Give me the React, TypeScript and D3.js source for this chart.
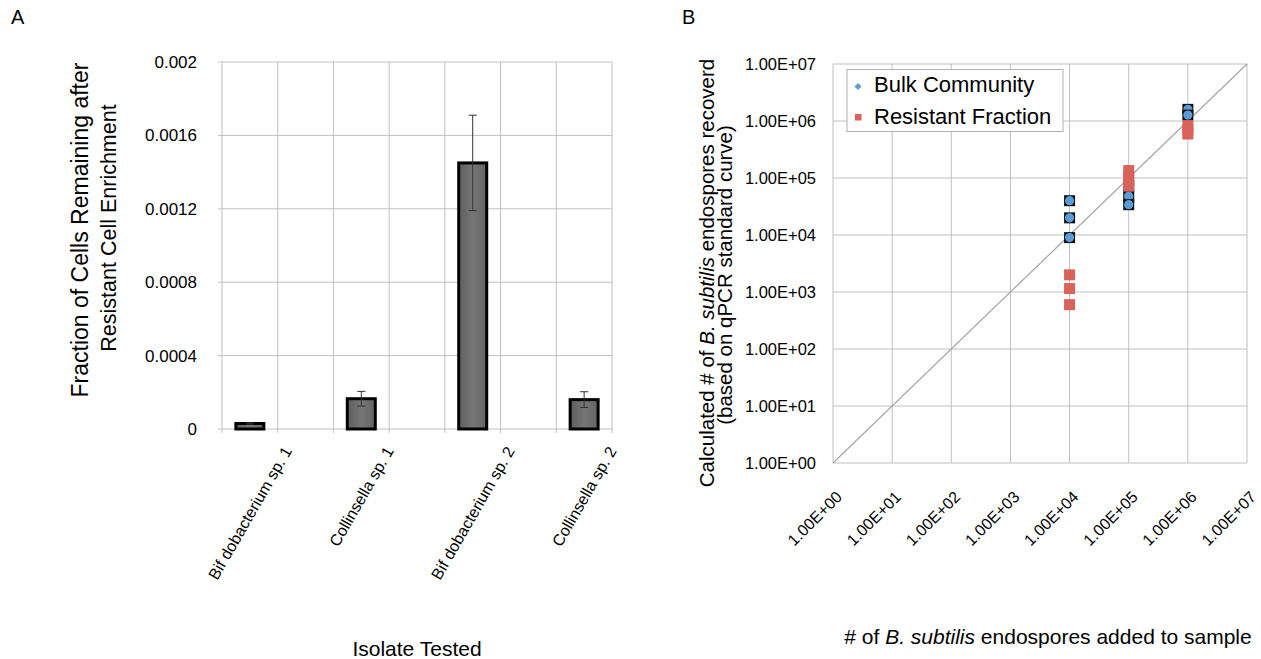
import React from "react";
import * as d3 from "d3";

// ---- panel A data ----
const isolates = ["Bif dobacterium sp. 1", "Collinsella sp. 1", "Bif dobacterium sp. 2", "Collinsella sp. 2"];
const fractionMean = [0.00003, 0.000165, 0.00145, 0.00016];
const fractionErr = [0.000003, 0.00004, 0.00026, 0.000043];
const yTicksA = [0, 0.0004, 0.0008, 0.0012, 0.0016, 0.002];
const yTickLabelsA = ["0", "0.0004", "0.0008", "0.0012", "0.0016", "0.002"];
const slotCount = 7; // excel axis had empty slots between isolates

// ---- panel B data ----
const bulkAdded = [1e4, 1e4, 1e4, 1e5, 1e5, 1e5, 1e6, 1e6];
const bulkRecovered = [4e4, 2e4, 9e3, 7e4, 4.8e4, 3.4e4, 1.6e6, 1.27e6];
const resistantAdded = [1e4, 1e4, 1e4, 1e5, 1e5, 1e5, 1e5, 1e6, 1e6, 1e6];
const resistantRecovered = [2e3, 1.15e3, 6e2, 1.35e5, 1.1e5, 9e4, 7.2e4, 8.3e5, 7e5, 5.9e5];
const logTicks = [1e0, 1e1, 1e2, 1e3, 1e4, 1e5, 1e6, 1e7];
const logTickLabels = ["1.00E+00", "1.00E+01", "1.00E+02", "1.00E+03", "1.00E+04", "1.00E+05", "1.00E+06", "1.00E+07"];

const font = "'Liberation Sans', Arial, Helvetica, sans-serif";
const grid = "#c0c0c0";
const blue = "#5a9bd8";
const red = "#d9625b";

let measureCtx: CanvasRenderingContext2D | null = null;
function textWidth(str: string, size: number) {
	if (!measureCtx) {
		measureCtx = document.createElement("canvas").getContext("2d");
	}
	if (!measureCtx) return str.length * size * 0.5;
	measureCtx.font = `${size}px 'Liberation Sans', Arial, sans-serif`;
	return measureCtx.measureText(str).width;
}

export default function App() {
	// panel A scales
	const xA = d3.scaleLinear().domain([0, slotCount]).range([222, 612]);
	const yA = d3.scaleLinear().domain([0, 0.002]).range([429, 62]);
	const slotW = xA(1) - xA(0);
	const barW = 28;

	// panel B scales
	const xB = d3.scaleLog().domain([1, 1e7]).range([833, 1247]);
	const yB = d3.scaleLog().domain([1, 1e7]).range([463, 64]);

	// rotated category labels: box centred on bar, top just under the axis
	const labelSize = 16;
	const capH = 0.716 * labelSize;
	const cos60 = 0.5, sin60 = Math.sqrt(3) / 2;

	return (
		<div style={{position: "absolute", left: 0, top: 0}}>
			<svg width={1261} height={659} style={{fontFamily: font, background: "#fff"}}>
				<defs>
					<linearGradient id="barGrad" x1="0" x2="1" y1="0" y2="0">
						<stop offset="0" stopColor="#5e5e5e" />
						<stop offset="0.5" stopColor="#767676" />
						<stop offset="1" stopColor="#646464" />
					</linearGradient>
				</defs>

				{/* ---------- panel A ---------- */}
				<text x={11} y={24} fontSize={20}>A</text>

				<g>
					{d3.range(slotCount + 1).map(i => (
						<line key={"va" + i} x1={xA(i)} x2={xA(i)} y1={yA(0.002)} y2={yA(0) + 4}
							stroke={grid} strokeWidth={1} />
					))}
					{yTicksA.map((t, i) => (
						<g key={"ha" + i}>
							<line x1={xA(0) - 4} x2={xA(slotCount)} y1={yA(t)} y2={yA(t)} stroke={grid} strokeWidth={1} />
							<text x={197} y={yA(t)} dy="0.35em" textAnchor="end" fontSize={17}>{yTickLabelsA[i]}</text>
						</g>
					))}
				</g>

				{isolates.map((name, i) => {
					let cx = xA(2 * i) + slotW / 2;
					let v = fractionMean[i];
					let e = fractionErr[i];
					let L = textWidth(name, labelSize);
					let sx = cx - (cos60 * L - sin60 * capH) / 2;
					let sy = 445 + sin60 * L + cos60 * capH;
					return (
						<g key={"bar" + i}>
							<rect x={cx - barW / 2} y={yA(v)} width={barW} height={yA(0) - yA(v)}
								fill="url(#barGrad)" stroke="#000" strokeWidth={3} />
							<line x1={cx} x2={cx} y1={yA(v + e)} y2={yA(v - e)} stroke="#333" strokeWidth={1} />
							<line x1={cx - 4} x2={cx + 4} y1={yA(v + e)} y2={yA(v + e)} stroke="#333" strokeWidth={1} />
							<line x1={cx - 4} x2={cx + 4} y1={yA(v - e)} y2={yA(v - e)} stroke="#333" strokeWidth={1} />
							<text transform={`translate(${sx}, ${sy}) rotate(-60)`} fontSize={labelSize}>{name}</text>
						</g>
					);
				})}

				<text transform="translate(88, 230) rotate(-90)" textAnchor="middle" fontSize={23}>
					Fraction of Cells Remaining after
				</text>
				<text transform="translate(116, 228) rotate(-90)" textAnchor="middle" fontSize={21.5}>
					Resistant Cell Enrichment
				</text>
				<text x={417} y={656} textAnchor="middle" fontSize={21}>Isolate Tested</text>

				{/* ---------- panel B ---------- */}
				<text x={682} y={24} fontSize={20}>B</text>

				<g>
					{logTicks.map((t, i) => (
						<g key={"gb" + i}>
							<line x1={xB(t)} x2={xB(t)} y1={yB(1e7)} y2={yB(1)} stroke={grid} strokeWidth={1} />
							<line x1={xB(1)} x2={xB(1e7)} y1={yB(t)} y2={yB(t)} stroke={grid} strokeWidth={1} />
							<text x={816} y={yB(t)} dy="0.35em" textAnchor="end" fontSize={16.5}>{logTickLabels[i]}</text>
							<text transform={`translate(${xB(t) + 10}, ${498}) rotate(-45)`} textAnchor="end" fontSize={16}>
								{logTickLabels[i]}
							</text>
						</g>
					))}
					<line x1={xB(1)} y1={yB(1)} x2={xB(1e7)} y2={yB(1e7)} stroke="#a8a8a8" strokeWidth={1.3} />
				</g>

				{bulkAdded.map((a, i) => (
					<g key={"bk" + i} transform={`translate(${xB(a)}, ${yB(bulkRecovered[i])})`}>
						<rect x={-5.5} y={-5.5} width={11} height={11} fill="#111" />
						<circle r={4.6} fill={blue} />
					</g>
				))}
				{resistantAdded.map((a, i) => (
					<rect key={"rs" + i} x={xB(a) - 5.5} y={yB(resistantRecovered[i]) - 5.5} width={11} height={11} fill={red} />
				))}

				{/* legend */}
				<g>
					<rect x={847} y={69.5} width={216} height={62} fill="#fff" stroke="#b0b0b0" strokeWidth={1} />
					<path d="M858,83 L861.5,86.5 L858,90 L854.5,86.5 Z" fill={blue} />
					<text x={874} y={91.5} fontSize={22}>Bulk Community</text>
					<rect x={855} y={114} width={6.5} height={6.5} fill={red} />
					<text x={874} y={123.5} fontSize={22}>Resistant Fraction</text>
				</g>

				<text transform="translate(714, 273) rotate(-90)" textAnchor="middle" fontSize={20.5}>
					Calculated # of <tspan fontStyle="italic">B. subtilis</tspan> endospores recoverd
				</text>
				<text transform="translate(732, 275) rotate(-90)" textAnchor="middle" fontSize={20.5}>
					(based on qPCR standard curve)
				</text>
				<text x={1048} y={644} textAnchor="middle" fontSize={21}>
					# of <tspan fontStyle="italic">B. subtilis</tspan> endospores added to sample
				</text>
			</svg>
		</div>
	);
}
